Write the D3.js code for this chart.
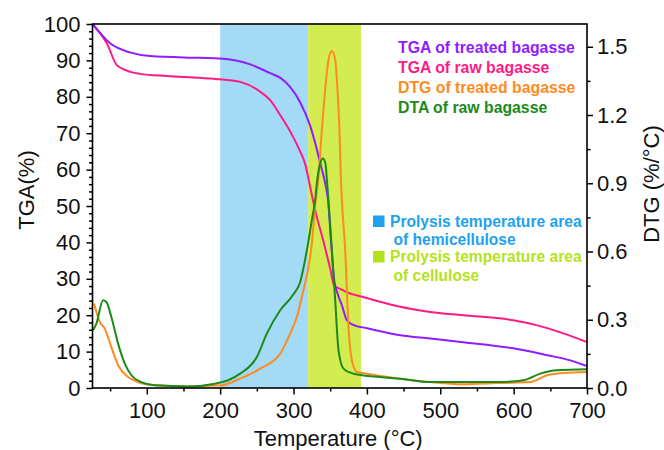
<!DOCTYPE html>
<html>
<head>
<meta charset="utf-8">
<script src="https://cdn.jsdelivr.net/npm/d3@7"></script>
<style>
  html, body { margin: 0; padding: 0; background: #ffffff; }
  svg { display: block; font-family: "Liberation Sans", Arial, sans-serif; }
</style>
</head>
<body>
<svg id="chart" width="664" height="450"></svg>
<script>
// ---------------- data ----------------
const tempDomain = [26, 700];
const tgaDomain = [0, 100];
const dtgDomain = [0, 1.6];

const xTickValues = [100, 200, 300, 400, 500, 600, 700];
const xMinorValues = [50, 150, 250, 350, 450, 550, 650];
const yLeftTickValues = [0, 10, 20, 30, 40, 50, 60, 70, 80, 90, 100];
const yRightTickValues = [0, 0.3, 0.6, 0.9, 1.2, 1.5];
const yRightMinorValues = [0.15, 0.45, 0.75, 1.05, 1.35];

const hemicelluloseBand = [200, 320];
const celluloseBand = [320, 392];

const tgaTreatedT = [26.4, 50, 77, 104.5, 172.7, 200, 241, 268, 282, 295, 309, 322.7, 329.5, 336.3, 343.1, 347.2, 351.3, 355.4, 360.8, 365.9, 372.7, 379.9, 400.4, 445.4, 486.3, 531, 599.5, 645.9, 677.2, 700];
const tgaTreated  = [100, 94.7, 92.2, 91.2, 90.7, 90.5, 88.9, 86.5, 85.2, 82.8, 78.5, 72.0, 67.3, 61.8, 56.3, 51.3, 39.7, 29.6, 25.5, 22.7, 18.6, 17.5, 16.4, 14.5, 13.6, 12.6, 10.9, 9.0, 7.6, 6.0];

const tgaRawT = [26.4, 45.5, 59.1, 72.7, 90.9, 127.3, 172.7, 200, 227.3, 254.5, 268.2, 281.8, 295.4, 309, 315.9, 322.7, 329.5, 340.4, 349.9, 355.4, 363.6, 372.7, 394.9, 445.4, 486.3, 531.3, 599.5, 632.2, 667.7, 700];
const tgaRaw  = [99.7, 94.7, 88.7, 87.2, 86.3, 85.7, 85.2, 84.8, 84.1, 81.4, 79.1, 75.0, 70.5, 65.0, 61.5, 55.2, 48.8, 40.6, 32.9, 28.2, 27.2, 26.3, 25.0, 22.3, 20.9, 20.0, 18.6, 17.2, 15.0, 12.6];

const dtgTreatedT = [28.1, 35.9, 42.7, 51.7, 60.9, 74.5, 88.1, 110.9, 156.3, 201.7, 227.2, 254.5, 281.8, 295.4, 304.5, 313.5, 320.4, 325, 329.5, 334, 338.6, 343.1, 347.6, 352.3, 356.8, 359.9, 362.6, 364.5, 366.3, 370.4, 374.9, 379.5, 386.4, 400, 445.4, 486.3, 531.3, 577.2, 622.7, 645.5, 667.7, 700];
const dtgTreated  = [0.371, 0.290, 0.261, 0.180, 0.100, 0.048, 0.026, 0.012, 0.007, 0.012, 0.041, 0.085, 0.151, 0.239, 0.312, 0.430, 0.532, 0.635, 0.804, 0.928, 1.134, 1.310, 1.442, 1.481, 1.442, 1.310, 1.134, 0.928, 0.804, 0.606, 0.268, 0.122, 0.070, 0.063, 0.041, 0.026, 0.016, 0.022, 0.026, 0.056, 0.066, 0.070];

const dtaRawT = [26.8, 31.3, 40.4, 44.9, 51.7, 60.9, 70, 79, 92.6, 110.9, 156.3, 192.7, 210.9, 227.2, 250, 263.6, 281.8, 300, 309, 318.2, 325, 329.5, 332.5, 336.3, 340, 343.5, 345.5, 347.6, 352.3, 356.8, 361.3, 368.1, 381.7, 418.1, 445.4, 486.3, 577.2, 613.5, 636.3, 659, 700];
const dtaRaw  = [0.254, 0.283, 0.386, 0.378, 0.312, 0.195, 0.107, 0.056, 0.026, 0.012, 0.007, 0.019, 0.034, 0.063, 0.136, 0.239, 0.342, 0.412, 0.465, 0.606, 0.738, 0.826, 0.920, 0.987, 1.009, 0.987, 0.914, 0.826, 0.606, 0.386, 0.166, 0.085, 0.063, 0.048, 0.041, 0.026, 0.026, 0.034, 0.063, 0.078, 0.082];

const legendLabels = ["TGA of treated bagasse", "TGA of raw bagasse", "DTG of treated bagasse", "DTA of raw bagasse"];
const legendColors = ["#8f1dff", "#ff1a86", "#ff8a1e", "#1b8a1b"];
const bandLabels = [["Prolysis temperature area", "of hemicellulose"], ["Prolysis temperature area", "of cellulose"]];
const bandColors = ["#a3dbf7", "#d3ec50"];
const bandTextColors = ["#1ea2ef", "#b3e31c"];

// ---------------- layout ----------------
const svg = d3.select("#chart");
const L = 92.5, R = 587, T = 24, B = 388;

const x = d3.scaleLinear().domain(tempDomain).range([L, R]);
const yL = d3.scaleLinear().domain(tgaDomain).range([B, T]);
const yR = d3.scaleLinear().domain(dtgDomain).range([B, T]);

svg.append("defs").append("clipPath").attr("id", "plotclip")
  .append("rect").attr("x", L).attr("y", T).attr("width", R - L).attr("height", B - T);

// bands
const bands = [hemicelluloseBand, celluloseBand];
svg.append("g").selectAll("rect").data(bands).join("rect")
  .attr("x", d => x(d[0])).attr("width", d => x(d[1]) - x(d[0]))
  .attr("y", T).attr("height", B - T)
  .attr("fill", (d, i) => bandColors[i]);

// lines
const plot = svg.append("g").attr("clip-path", "url(#plotclip)");
const series = [
  { t: tgaRawT, v: tgaRaw, y: yL, c: legendColors[1] },
  { t: tgaTreatedT, v: tgaTreated, y: yL, c: legendColors[0] },
  { t: dtgTreatedT, v: dtgTreated, y: yR, c: legendColors[2] },
  { t: dtaRawT, v: dtaRaw, y: yR, c: legendColors[3] }
];
series.forEach(s => {
  const pts = s.t.map((t, i) => [t, s.v[i]]);
  const line = d3.line().x(d => x(d[0])).y(d => s.y(d[1])).curve(d3.curveMonotoneX);
  plot.append("path").datum(pts).attr("d", line)
    .attr("fill", "none").attr("stroke", s.c).attr("stroke-width", 2).attr("stroke-linejoin", "round");
});

// axes
const fontSize = "22px";
function styleAxis(g, noLabels) {
  g.select(".domain").remove();
  g.selectAll(".tick line").attr("stroke", "#000").attr("stroke-width", 1.5);
  g.selectAll(".tick text").attr("font-size", fontSize).attr("fill", "#111").attr("font-family", "Liberation Sans, Arial, sans-serif");
  if (noLabels) g.selectAll(".tick text").remove();
}

// x axis
const gx = svg.append("g").attr("transform", `translate(0,${B})`)
  .call(d3.axisBottom(x).tickValues(xTickValues).tickSize(6.5).tickPadding(8).tickFormat(d3.format("d")));
styleAxis(gx);
const gxm = svg.append("g").attr("transform", `translate(0,${B})`)
  .call(d3.axisBottom(x).tickValues(xMinorValues).tickSize(3.5).tickFormat(""));
styleAxis(gxm, true);

// left axis
const gl = svg.append("g").attr("transform", `translate(${L},0)`)
  .call(d3.axisLeft(yL).tickValues(yLeftTickValues).tickSize(6).tickPadding(6).tickFormat(d3.format("d")));
styleAxis(gl);
const glm = svg.append("g").attr("transform", `translate(${L},0)`)
  .call(d3.axisLeft(yL).tickValues(d3.range(0, 101, 2).filter(v => v % 10 !== 0)).tickSize(3.5).tickFormat(""));
styleAxis(glm, true);

// right axis
const gr = svg.append("g").attr("transform", `translate(${R},0)`)
  .call(d3.axisRight(yR).tickValues(yRightTickValues).tickSize(6).tickPadding(4).tickFormat(d3.format(".1f")));
styleAxis(gr);
const grm = svg.append("g").attr("transform", `translate(${R},0)`)
  .call(d3.axisRight(yR).tickValues(yRightMinorValues).tickSize(3.5).tickFormat(""));
styleAxis(grm, true);

// frame
svg.append("rect").attr("x", L).attr("y", T).attr("width", R - L).attr("height", B - T)
  .attr("fill", "none").attr("stroke", "#000").attr("stroke-width", 1.6);

// axis titles
svg.append("text").attr("x", (x(300) + x(400)) / 2 + 8).attr("y", 446)
  .attr("text-anchor", "middle").attr("font-size", fontSize).attr("fill", "#111")
  .text("Temperature (°C)");
svg.append("text").attr("transform", "translate(34,190) rotate(-90)")
  .attr("text-anchor", "middle").attr("font-size", fontSize).attr("fill", "#111")
  .text("TGA(%)");
svg.append("text").attr("transform", "translate(659,184) rotate(-90)")
  .attr("text-anchor", "middle").attr("font-size", fontSize).attr("fill", "#111")
  .text("DTG (%/°C)");

// legend
const leg = svg.append("g");
leg.selectAll("text").data(legendLabels).join("text")
  .attr("x", 398).attr("y", (d, i) => 52.5 + i * 20.3)
  .attr("font-size", "15.8px").attr("font-weight", "bold")
  .attr("fill", (d, i) => legendColors[i])
  .text(d => d);

// band annotations
const ann = svg.append("g");
const annBase = [226.5, 262];
bandLabels.forEach((lines, i) => {
  ann.append("rect").attr("x", 373).attr("y", annBase[i] - 11).attr("width", 11.5).attr("height", 11.5)
    .attr("fill", bandTextColors[i]);
  ann.append("text").attr("x", 390).attr("y", annBase[i])
    .attr("font-size", "15.6px").attr("font-weight", "bold").attr("fill", bandTextColors[i])
    .text(lines[0]);
  ann.append("text").attr("x", 393.5).attr("y", annBase[i] + (i === 0 ? 18.5 : 19))
    .attr("font-size", "15.6px").attr("font-weight", "bold").attr("fill", bandTextColors[i])
    .text(lines[1]);
});
</script>
</body>
</html>
